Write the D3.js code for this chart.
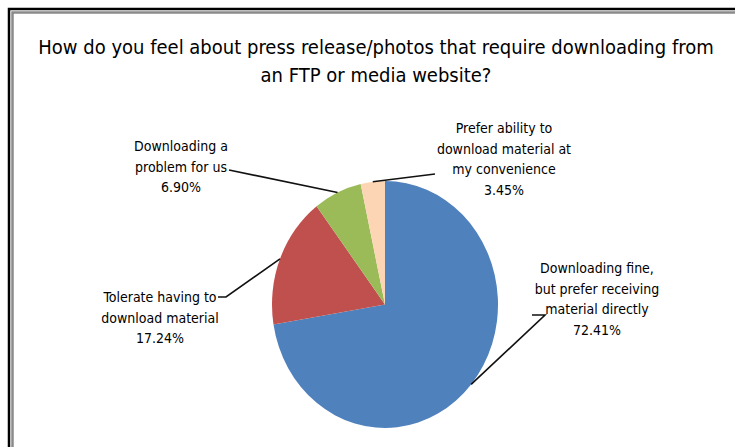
<!DOCTYPE html>
<html>
<head>
<meta charset="utf-8">
<script src="https://cdn.jsdelivr.net/npm/d3@7"></script>
<style>
  html, body { margin: 0; padding: 0; background: #fff; }
  svg { display: block; }
  text { font-family: "Liberation Sans Narrow", "DejaVu Sans Condensed", "Liberation Sans", sans-serif; fill: #000; }
</style>
</head>
<body>
<svg id="chart" width="735" height="447"></svg>
<script>
// Survey answers, clockwise from 12 o'clock
const categories = [
  "Downloading fine, but prefer receiving material directly",
  "Tolerate having to download material",
  "Downloading a problem for us",
  "Prefer ability to download material at my convenience"
];
const values = [72.41, 17.24, 6.90, 3.45];
const colors = ["#4F81BD", "#C0504D", "#9BBB59", "#FCD5B4"];
const labelLines = [
  ["Downloading fine,", "but prefer receiving", "material directly"],
  ["Tolerate having to", "download material"],
  ["Downloading a", "problem for us"],
  ["Prefer ability to", "download material at", "my convenience"]
];
const titleLines = [
  "How do you feel about press release/photos that require downloading from",
  "an FTP or media website?"
];

const svg = d3.select("#chart");
const W = 735, H = 447;

// frame (left and top edges of the chart box)
svg.append("rect").attr("x", 9).attr("y", 9).attr("width", W).attr("height", H)
  .attr("fill", "#fff").attr("stroke", "#000").attr("stroke-width", 2.5);
svg.append("path").attr("d", `M12.5,${H} V12.5 H${W}`)
  .attr("fill", "none").attr("stroke", "#8a8a8a").attr("stroke-width", 2.5);

// title
const title = svg.append("text").attr("text-anchor", "middle").attr("font-size", 20);
titleLines.forEach((t, i) => {
  title.append("tspan").attr("x", 376).attr("y", 54 + i * 28).text(t);
});

// pie, slightly compressed horizontally
const cx = 385, cy = 304.5, r = 123.5, sx = 113 / 123.5;
const pie = d3.pie().sort(null).value(d => d);
const arcs = pie(values);
const arc = d3.arc().innerRadius(0).outerRadius(r);
const edge = d3.arc().innerRadius(r).outerRadius(r);

svg.append("g")
  .attr("transform", `translate(${cx},${cy}) scale(${sx},1)`)
  .selectAll("path").data(arcs).join("path")
  .attr("d", arc)
  .attr("fill", (d, i) => colors[i]);

// label placement: anchor = leader end next to the text, center = text block center
const labelLayout = [
  { cx: 597, y: 268, anchor: [532, 315], elbow: [545, 315] },
  { cx: 160, y: 297, anchor: [218, 297], elbow: [226, 297] },
  { cx: 181, y: 146, anchor: [229, 170], elbow: [229, 170] },
  { cx: 504, y: 128, anchor: [435, 174], elbow: [435, 174] }
];

arcs.forEach((a, i) => {
  const L = labelLayout[i];
  const [ex, ey] = edge.centroid(a);
  const px = cx + ex * sx, py = cy + ey;
  const ax = L.anchor[0], ay = L.anchor[1];
  const bx = L.elbow[0], by = L.elbow[1];
  svg.append("path")
    .attr("d", `M${ax},${ay} L${bx},${by} L${px},${py}`)
    .attr("fill", "none").attr("stroke", "#111").attr("stroke-width", 1.6);

  const t = svg.append("text").attr("text-anchor", "middle").attr("font-size", 14);
  const lines = labelLines[i].concat([d3.format(".2f")(values[i]) + "%"]);
  lines.forEach((s, j) => {
    t.append("tspan").attr("x", L.cx).attr("y", L.y + 5 + j * 20.5).text(s);
  });
});
</script>
</body>
</html>
